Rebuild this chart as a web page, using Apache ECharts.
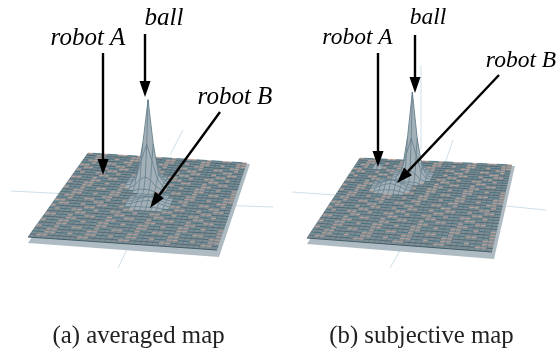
<!DOCTYPE html>
<html><head><meta charset="utf-8">
<style>html,body{margin:0;padding:0;background:#fff}#c{width:560px;height:352px}</style>
<script src="https://cdn.jsdelivr.net/npm/echarts@6/dist/echarts.min.js"></script>
</head><body><div id="c"></div>
<script>
// ---- data: surface heights (grid vertices, height in px-like units)
var cellsPerSide = 32;
var ballAveraged = [
 [0,0,1,1,1,0,0],
 [0,1,6,9,6,1,0],
 [1,7,24,38,24,7,1],
 [2,10,40,84,40,10,2],
 [1,8,26,42,26,8,1],
 [0,3,9,12,9,3,0],
 [0,0,2,2,2,0,0]];
var robotBAveraged = [
 [0,1,1,1,1,1,0],
 [1,2,3,3,3,2,1],
 [1,3,5,6,5,3,1],
 [1,3,4,5,4,3,1],
 [0,1,1,1,1,1,0]];
var ballSubjective = [
 [0,0,1,1,1,0,0],
 [0,1,6,9,6,1,0],
 [1,6,22,36,22,6,1],
 [1,9,38,84,38,9,1],
 [1,7,24,40,24,7,1],
 [0,2,7,10,7,2,0],
 [0,0,1,1,1,0,0]];
var robotBSubjective = [
 [0,1,1,1,1,1,0],
 [1,2,4,5,4,2,1],
 [1,4,6,7,6,4,1],
 [1,3,5,6,5,3,1],
 [0,1,2,2,2,1,0]];
var robotASubjective = [[7]];
var captions = ['(a) averaged map','(b) subjective map'];
var labelsA = ['robot A','ball','robot B'];

// ---- layout
var panels = [
 {corners:[[88,153],[247,163],[217,250],[28,237]],
  bumps:[[ballAveraged,15,11],[robotBAveraged,17,18]],
  arrows:[[103,53,103,175],[145,34,145,97],[220,112,150,208]],
  axes:[[11,191,70,194],[215,205,273,207],[118,268,128,247],[170,155,183,130]],
  texts:[[88,38],[164,18],[235,97]], font:25, caption:[138.5,336]},
 {corners:[[360,158],[512,165],[492,252],[307,238]],
  bumps:[[ballSubjective,13,7],[robotBSubjective,10,12],[robotASubjective,5,4]],
  arrows:[[378,53,378,167],[415,35,415,93],[499,75,397,183]],
  axes:[[292,192,335,195],[495,205,546,210],[390,268,402,247],[442,172,453,140],[421,65,421,150]],
  texts:[[357.5,38],[428,18],[521,61]], font:23.5, caption:[421.5,336]}
];

function homography(q){
  var x0=q[0][0],y0=q[0][1],x1=q[1][0],y1=q[1][1],x2=q[2][0],y2=q[2][1],x3=q[3][0],y3=q[3][1];
  var dx1=x1-x2,dx2=x3-x2,sx=x0-x1+x2-x3,dy1=y1-y2,dy2=y3-y2,sy=y0-y1+y2-y3;
  var den=dx1*dy2-dx2*dy1,g=(sx*dy2-dx2*sy)/den,h=(dx1*sy-sx*dy1)/den;
  var a=x1-x0+g*x1,b=x3-x0+h*x3,d=y1-y0+g*y1,e=y3-y0+h*y3;
  return function(u,v){var w=g*u+h*v+1;return [(a*u+b*v+x0)/w,(d*u+e*v+y0)/w];};
}
function heightField(bumps){
  var n=cellsPerSide+1,f=[];
  for(var j=0;j<n;j++){f.push(new Array(n).fill(0));}
  bumps.forEach(function(b){
    var m=b[0],ci=b[1]-(m[0].length>>1),cj=b[2]-(m.length>>1);
    m.forEach(function(r,dj){r.forEach(function(h,di){f[cj+dj][ci+di]=Math.max(f[cj+dj][ci+di],h);});});
  });
  return f;
}
var SALMON='#c9a194',TEAL='#2f6674',DARK='#3f5a66';
function surfaceSeries(p){
  var H=homography(p.corners),field=heightField(p.bumps),cells=[];
  for(var j=0;j<cellsPerSide;j++)for(var i=0;i<cellsPerSide;i++)cells.push([i,j]);
  return {type:'custom',coordinateSystem:'cartesian2d',silent:true,clip:false,data:cells,z:3,animation:false,
   encode:{x:0,y:1},
   renderItem:function(params,api){
    var i=api.value(0),j=api.value(1);
    function pt(a,b){var q=H(a/cellsPerSide,b/cellsPerSide);return api.coord([q[0],q[1]-field[b][a]]);}
    var A=pt(i,j),B=pt(i+1,j),C=pt(i+1,j+1),D=pt(i,j+1);
    var raised=field[j][i]+field[j][i+1]+field[j+1][i]+field[j+1][i+1]>0;
    var kids=[{type:'polygon',shape:{points:[A,B,C,D]},style:{fill:raised?'#a4b0b7':'#7f8e95',stroke:null}}];
    var k=(i*5+j*3+(j%2)*i)%7;
    var hc=raised?'#64808c':(j%2===0?(k<3?SALMON:TEAL):(k<2?SALMON:DARK));
    var vc=raised?'#557583':DARK;
    kids.push({type:'line',shape:{x1:A[0],y1:A[1],x2:B[0],y2:B[1]},style:{stroke:hc,lineWidth:1,opacity:raised?.8:.75}});
    kids.push({type:'line',shape:{x1:A[0],y1:A[1],x2:D[0],y2:D[1]},style:{stroke:vc,lineWidth:.8,opacity:raised?.8:.55}});
    if(j===cellsPerSide-1)kids.push({type:'line',shape:{x1:D[0],y1:D[1],x2:C[0],y2:C[1]},style:{stroke:DARK,lineWidth:1}});
    return {type:'group',children:kids};
   }};
}
function baseSeries(panels){
  return {type:'custom',coordinateSystem:'cartesian2d',silent:true,clip:false,z:2,animation:false,
   data:panels.map(function(p,idx){return [idx,0];}),encode:{x:0,y:1},
   renderItem:function(params,api){
    var p=panels[api.value(0)],c=p.corners,kids=[];
    p.axes.forEach(function(a){
      var s=api.coord([a[0],a[1]]),e=api.coord([a[2],a[3]]);
      kids.push({type:'line',shape:{x1:s[0],y1:s[1],x2:e[0],y2:e[1]},style:{stroke:'#cfe0ea',lineWidth:1}});
    });
    var sh=[[c[0][0],c[0][1]+1],[c[1][0]+3,c[1][1]+1],[c[2][0]+2,c[2][1]+7],[c[3][0],c[3][1]+6]].map(function(q){return api.coord(q);});
    kids.push({type:'polygon',shape:{points:sh},style:{fill:'#aebbc3',stroke:null}});
    return {type:'group',children:kids};
   }};
}
function arrowSeries(panels){
  var all=[];panels.forEach(function(p){p.arrows.forEach(function(a){all.push(a);});});
  return {type:'custom',coordinateSystem:'cartesian2d',silent:true,clip:false,z:5,animation:false,
   data:all,encode:{x:[0,2],y:[1,3]},
   renderItem:function(params,api){
    var s=api.coord([api.value(0),api.value(1)]),e=api.coord([api.value(2),api.value(3)]);
    var dx=e[0]-s[0],dy=e[1]-s[1],L=Math.hypot(dx,dy);dx/=L;dy/=L;
    var hl=16,hw=5.5,bx=e[0]-dx*hl,by=e[1]-dy*hl;
    return {type:'group',children:[
     {type:'line',shape:{x1:s[0],y1:s[1],x2:bx,y2:by},style:{stroke:'#000',lineWidth:2.4}},
     {type:'polygon',shape:{points:[e,[bx-dy*hw,by+dx*hw],[bx+dy*hw,by-dx*hw]]},style:{fill:'#000',stroke:null}}
    ]};
   }};
}
var graphics=[];
panels.forEach(function(p,pi){
  labelsA.forEach(function(t,k){
    graphics.push({type:'text',x:p.texts[k][0],y:p.texts[k][1],z:10,style:{text:t,x:0,y:0,align:'center',verticalAlign:'middle',
      font:'italic '+p.font+'px "Liberation Serif"',fill:'#000'}});
  });
  graphics.push({type:'text',x:p.caption[0],y:p.caption[1],z:10,style:{text:captions[pi],align:'center',verticalAlign:'middle',
      font:'24.8px "Liberation Serif"',fill:'#222'}});
});
var chart=echarts.init(document.getElementById('c'),null,{width:560,height:352});
chart.setOption({
  animation:false,backgroundColor:'#fff',
  grid:{left:0,right:0,top:0,bottom:0},
  xAxis:{type:'value',min:0,max:560,show:false},
  yAxis:{type:'value',min:0,max:352,inverse:true,show:false},
  graphic:graphics,
  series:[baseSeries(panels),surfaceSeries(panels[0]),surfaceSeries(panels[1]),arrowSeries(panels)]
});
</script></body></html>
